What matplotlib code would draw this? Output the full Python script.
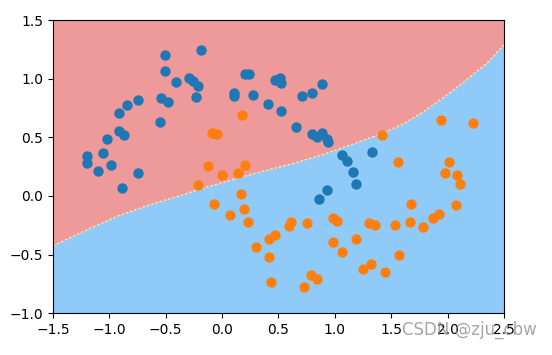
import matplotlib
matplotlib.use("Agg")
import matplotlib.pyplot as plt
import numpy as np

# class 0 (blue) points
blue_x = [-0.507, -0.19, -0.507, -0.41, -0.291, -0.256, -0.217, -0.236, -0.545, -0.483,
          -0.547, -0.746, -0.841, -0.915, -0.915, -0.87, -1.018, -1.057, -1.198, -1.198,
          -0.986, -1.1, -0.888, -0.746, 0.105, 0.105, 0.2, 0.241, 0.277, 0.41,
          0.525, 0.47, 0.51, 0.52, 0.706, 0.8, 0.883, 0.655, 0.8, 0.844,
          0.883, 0.927, 0.936, 1.06, 1.11, 1.327, 1.158, 1.187, 0.933, 0.859]
blue_y = [1.203, 1.248, 1.063, 0.969, 1.006, 0.983, 0.935, 0.84, 0.832, 0.798,
          0.632, 0.82, 0.772, 0.704, 0.555, 0.521, 0.484, 0.37, 0.341, 0.278,
          0.267, 0.216, 0.067, 0.195, 0.878, 0.849, 1.04, 1.04, 0.863, 0.783,
          0.726, 0.99, 1.01, 0.96, 0.849, 0.878, 0.955, 0.589, 0.527, 0.504,
          0.535, 0.49, 0.461, 0.349, 0.298, 0.378, 0.207, 0.104, 0.047, -0.024]

# class 1 (orange) points
orange_x = [0.179, -0.092, -0.048, -0.122, 0.2, 0.0, 0.143, -0.213, 0.165, -0.072,
            0.198, 0.07, 0.227, 0.416, 0.472, 0.3, 0.42, 0.43, 1.415, 1.939,
            2.228, 1.556, 2.012, 1.977, 2.086, 2.11, 1.675, 2.072, 1.666, 1.784,
            1.873, 1.926, 1.533, 1.303, 1.356, 0.98, 1.016, 0.75, 0.608, 0.596,
            0.98, 1.187, 1.066, 1.572, 1.318, 1.247, 1.445, 0.786, 0.839, 0.729]
orange_y = [0.692, 0.541, 0.529, 0.258, 0.267, 0.176, 0.193, 0.09, 0.019, -0.067,
            -0.107, -0.164, -0.221, -0.37, -0.336, -0.438, -0.52, -0.729, 0.521, 0.646,
            0.621, 0.29, 0.29, 0.195, 0.176, 0.104, -0.07, -0.081, -0.218, -0.267,
            -0.187, -0.152, -0.244, -0.229, -0.244, -0.187, -0.21, -0.229, -0.218, -0.258,
            -0.392, -0.366, -0.475, -0.501, -0.58, -0.623, -0.649, -0.672, -0.704, -0.775]

# decision boundary
bound_x = [-1.5, -1.23, -0.935, -0.64, -0.344, -0.196, 0.307, 0.6, 0.897, 1.045,
           1.193, 1.341, 1.489, 1.637, 1.784, 1.932, 2.08, 2.228, 2.346, 2.5]
bound_y = [-0.424, -0.301, -0.173, -0.073, 0.013, 0.061, 0.199, 0.27, 0.355, 0.405,
           0.455, 0.507, 0.563, 0.632, 0.718, 0.82, 0.926, 1.04, 1.13, 1.29]

fig = plt.figure(figsize=(5.52, 3.55), dpi=100)
ax = fig.add_axes([0.096, 0.1175, 0.817, 0.826])

ax.fill_between(bound_x, bound_y, 1.5, color='#EF9A9A', lw=0)
ax.fill_between(bound_x, -1.0, bound_y, color='#90CAF9', lw=0)
ax.plot(bound_x, bound_y, color='#FFF59D', lw=0.8, ls=(0, (2, 2)))

ax.scatter(blue_x, blue_y, s=42, color='#1f77b4', zorder=3)
ax.scatter(orange_x, orange_y, s=42, color='#ff7f0e', zorder=3)

ax.set_xlim(-1.5, 2.5)
ax.set_ylim(-1.0, 1.5)
ax.set_xticks(np.arange(-1.5, 2.51, 0.5))
ax.set_yticks(np.arange(-1.0, 1.51, 0.5))
ax.tick_params(labelsize=10)

# watermark, overlapping the tick labels as in the original
fig.text(0.973, 0.07, 'CSDN @zju_cbw', ha='right', va='center',
         fontsize=12, color='#888888', alpha=0.75)

fig.savefig('out.png', dpi=100)
